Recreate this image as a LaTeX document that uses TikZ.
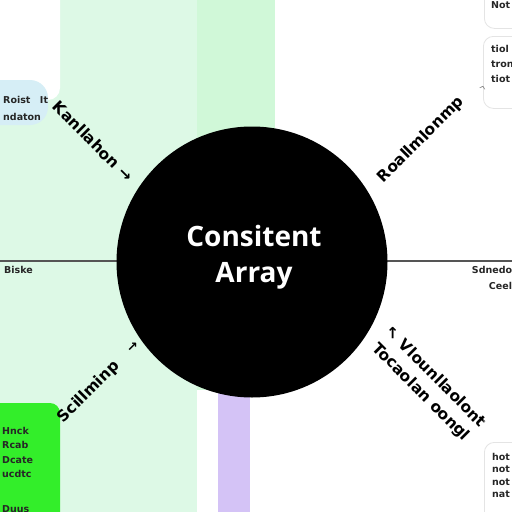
\documentclass[tikz,border=0pt]{standalone}
\usepackage{fontspec}
\setmainfont{DejaVu Sans}
\newfontfamily\titlefont{Open Sans}
\definecolor{palegreen}{HTML}{DDF9E6}
\definecolor{mintstripe}{HTML}{D0F8D8}
\definecolor{lavender}{HTML}{D4C3F6}
\definecolor{paleblue}{HTML}{D6EEF6}
\definecolor{brightgreen}{HTML}{33EE2A}
\definecolor{inkgray}{HTML}{555555}
\definecolor{boxedge}{HTML}{E4E4E4}
\tikzset{
  diaglabel/.style={font=\bfseries\fontsize{15.5}{17}\selectfont, text=black, inner sep=0pt, align=center},
  smalllabel/.style={font=\bfseries\fontsize{9.5}{12.5}\selectfont, text=black!85, inner sep=0pt, align=left},
  sidebox/.style={draw=boxedge, line width=0.8pt, fill=white, rounded corners=10pt},
}
\begin{document}
\begin{tikzpicture}[x=1pt,y=-1pt]
\useasboundingbox (0,0) rectangle (512,512);
\begin{scope}
\clip (0,0) rectangle (512,512);
% background bands
\fill[white] (0,0) rectangle (512,512);
\fill[palegreen] (0,0) rectangle (197,512);
\fill[white, rounded corners=12pt] (-20,-20) rectangle (60,100);
\fill[mintstripe] (197,0) rectangle (275,390);
\fill[lavender] (218,380) rectangle (250,512);
% horizontal axis
\draw[inkgray, line width=1.3pt] (0,261) -- (512,261);
% top-left blob
\fill[paleblue, rounded corners=18pt] (-20,80) rectangle (48,125);
\node[smalllabel, anchor=west] (tl1) at (3,100) {Roist\quad It};
\node[smalllabel, anchor=west] (tl2) at (3,117) {ndaton};
% top-right boxes
\node[sidebox, minimum width=40pt, minimum height=38pt, anchor=north west] (trbox1) at (484,-10) {};
\node[smalllabel, anchor=west] (trt1) at (491,5) {Not};
\node[sidebox, minimum width=40pt, minimum height=72pt, anchor=north west] (trbox2) at (483,36) {};
\node[smalllabel, anchor=north west, font=\bfseries\fontsize{9.5}{15}\selectfont] (trt2) at (491,45) {tiol\\tron\\tiot};
% bottom-right box
\node[sidebox, minimum width=40pt, minimum height=80pt, anchor=north west] (brbox) at (484,442) {};
\node[smalllabel, anchor=north west] (brt) at (492,453) {hot\\not\\not\\nat};
% bottom-left green box
\fill[brightgreen, rounded corners=10pt] (-20,403) -- (60,403) -- (60,530) -- (-20,530) -- cycle;
\node[smalllabel, anchor=north west, font=\bfseries\fontsize{9.5}{14.5}\selectfont] (blt) at (2,427) {Hnck\\Rcab\\Dcate\\ucdtc};
\node[smalllabel, anchor=north west] (blt2) at (2,505) {Duus};
% side labels
\node[smalllabel, anchor=west] (lefttxt) at (4,270) {Biske};
\node[smalllabel, anchor=north, align=right, font=\bfseries\fontsize{9.5}{16}\selectfont] (righttxt) at (492,266) {Sdnedo\\\hfill Ceel};
% central circle
\node[circle, fill=black, minimum size=271pt, inner sep=0pt] (core) at (252,262) {};
\node[text=white, align=center, font=\titlefont\bfseries\fontsize{28}{36}\selectfont] (coretxt) at (254,257) {Consitent\\Array};
% diagonal labels
\node[diaglabel, rotate=-45] (nw) at (93,141) {Kanllahon →};
\node[diaglabel, rotate=45] (ne) at (421,140) {Roallmlonmp};
\node[text=gray, font=\fontsize{10}{10}\selectfont, rotate=-15, inner sep=0pt] (nearrow) at (482,90) {\textasciicircum};
\node[diaglabel, rotate=45] (sw) at (89,392) {Scillminp};
\node[diaglabel, rotate=45, font=\bfseries\fontsize{13}{13}\selectfont] (swarrow) at (133,347) {→};
\node[diaglabel, rotate=-45, font=\bfseries\fontsize{15.5}{21}\selectfont] (se) at (428,385) {↖ Vlounllaolont\\Tocaolan oongl};
\node[text=gray, font=\fontsize{8}{8}\selectfont, inner sep=0pt] (sedot) at (484,424) {°};
\end{scope}
\end{tikzpicture}
\end{document}
